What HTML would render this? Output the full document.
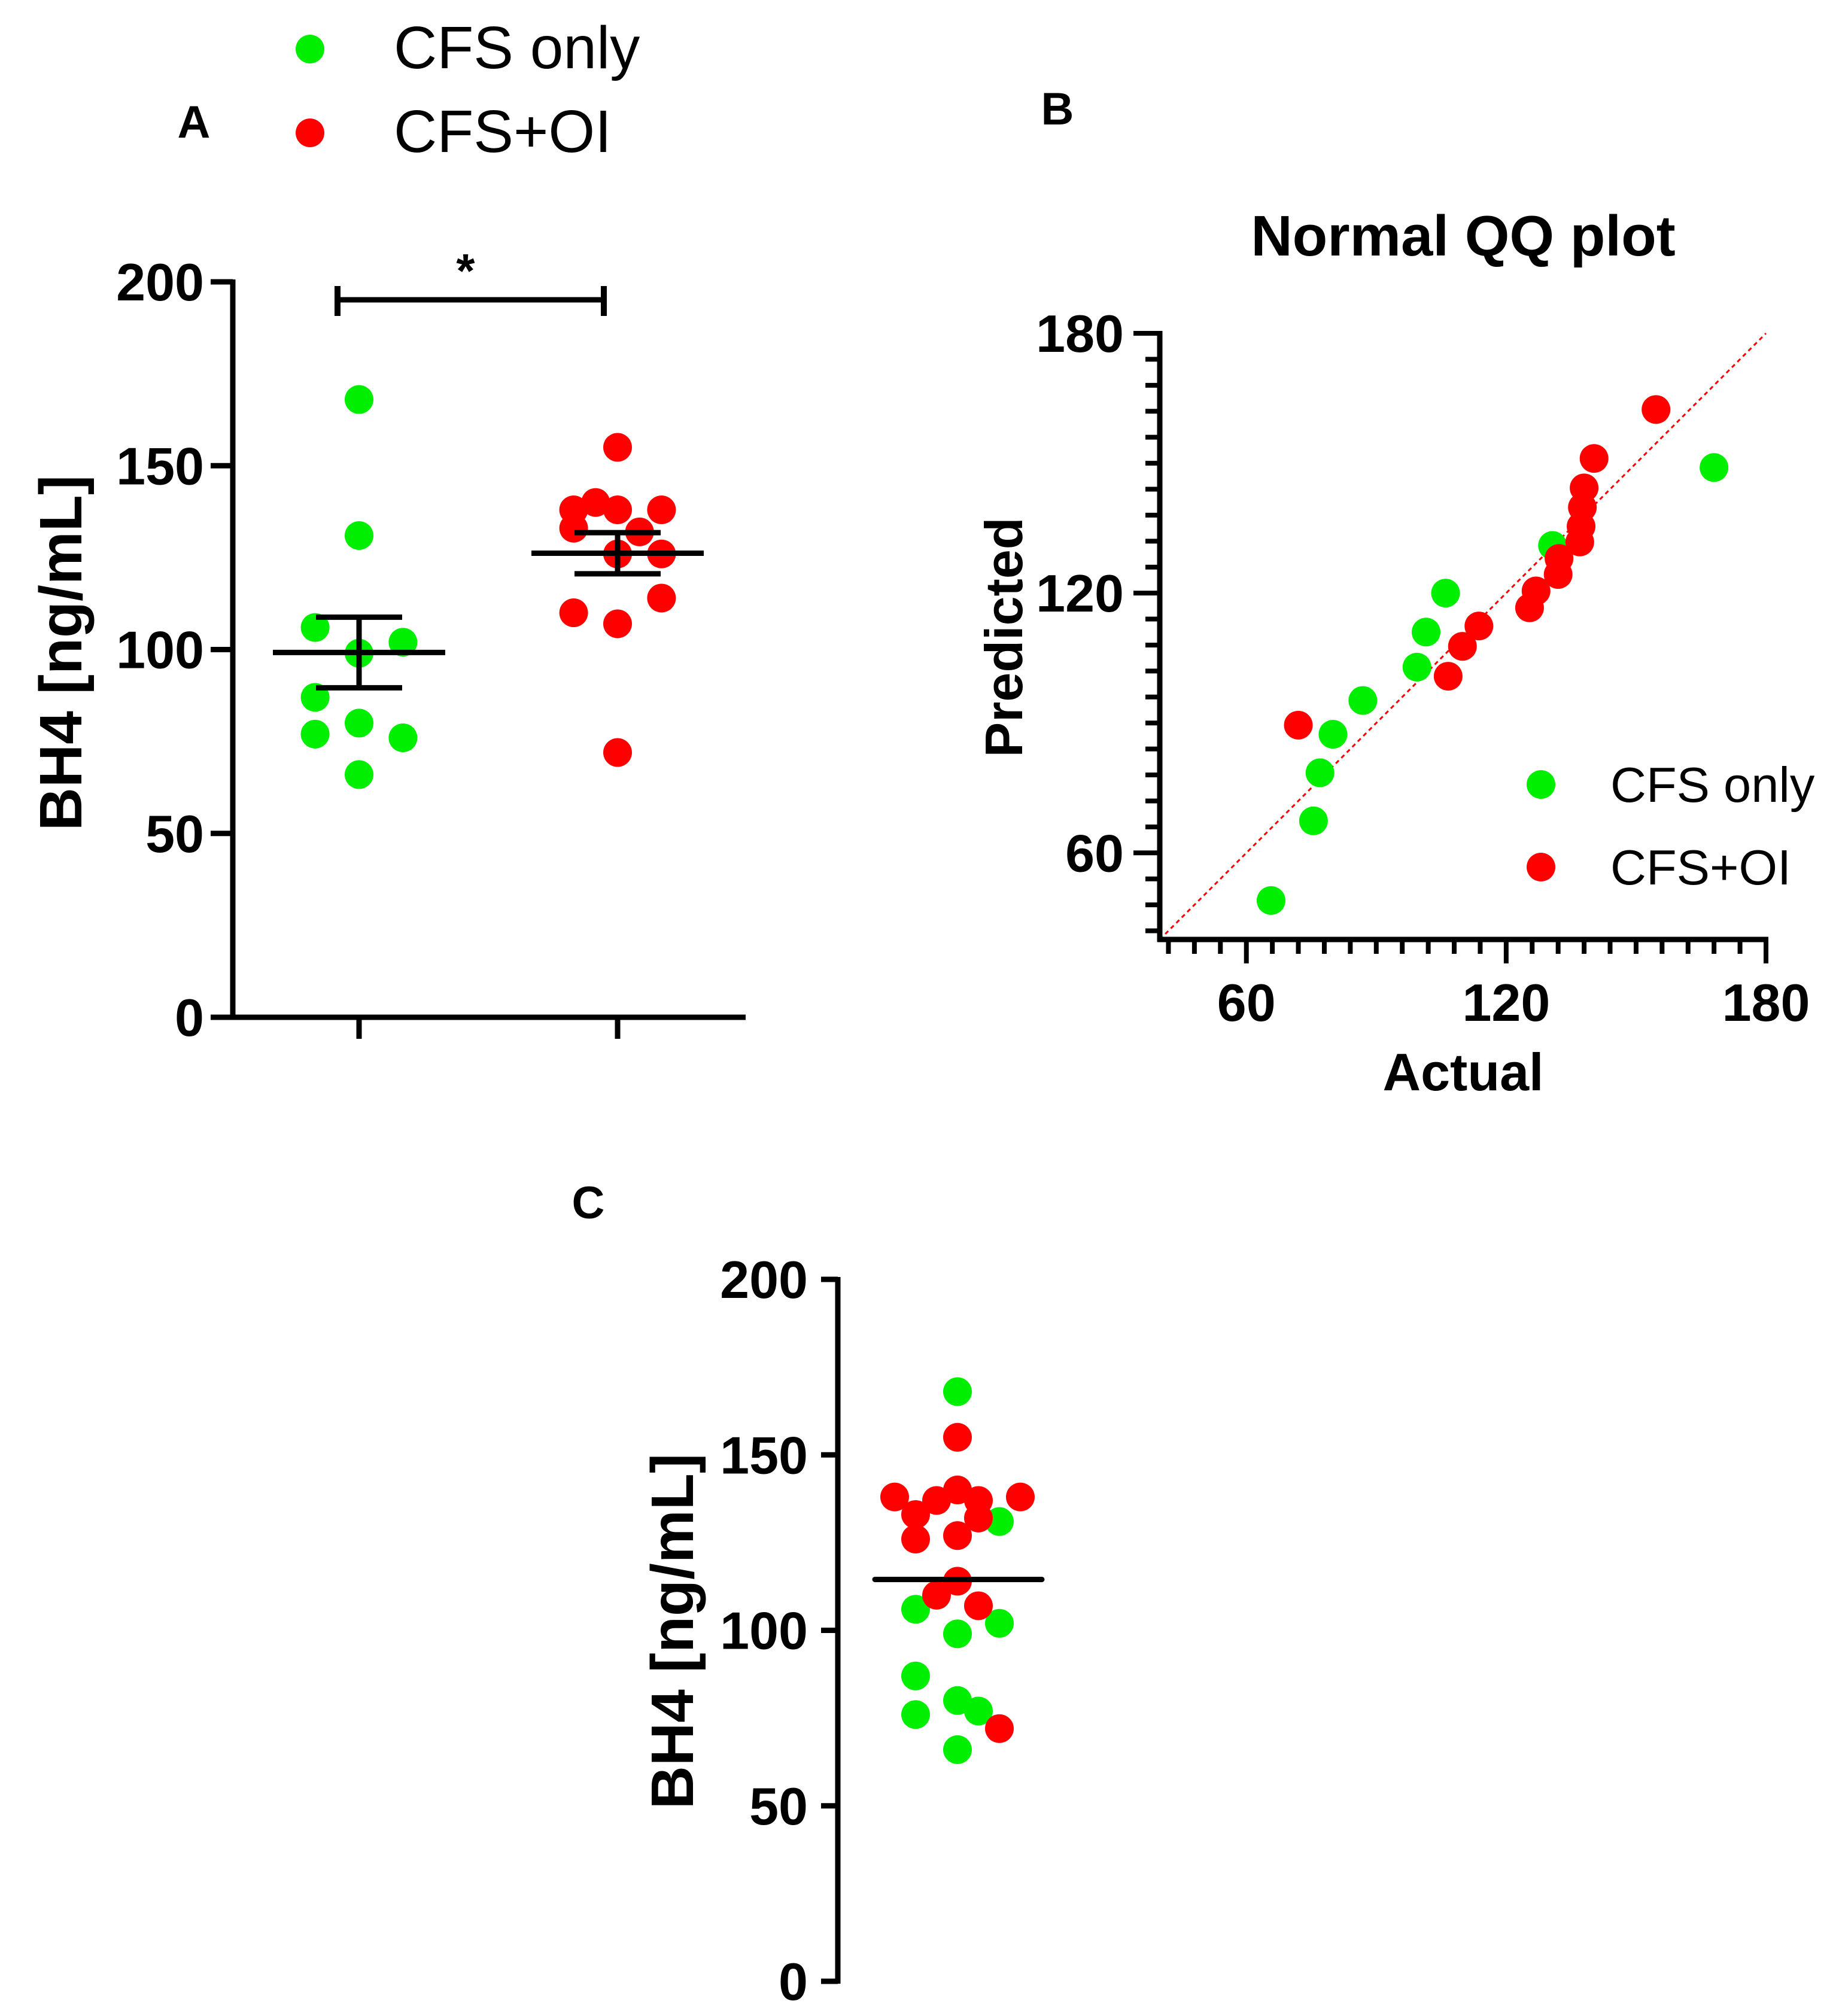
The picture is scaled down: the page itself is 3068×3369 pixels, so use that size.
<!DOCTYPE html>
<html><head><meta charset="utf-8">
<style>
html,body{margin:0;padding:0;background:#fff;}
svg{display:block;font-family:"Liberation Sans",Arial,sans-serif;}
</style></head>
<body>
<svg id="fig" width="3068" height="3369" viewBox="0 0 3068 3369" xmlns="http://www.w3.org/2000/svg">
<g id="pa"></g>
<g id="pb"></g>
<g id="pc"></g>
</svg>
<script>
// ---------- Data ----------
// Panel A
const groupsA = ["CFS only", "CFS+OI"];
const greenA = [168, 131, 106, 99, 102, 87, 80, 77, 76, 66];
const greenSlotA = [0, 0, -2, 0, 2, -2, 0, -2, 2, 0];
const redA = [155, 138, 140, 138, 138, 133, 132, 126, 126, 110, 107, 114, 72];
const redSlotA = [0, -2, -1, 0, 2, -2, 1, 0, 2, -2, 0, 2, 0];
const meansA = [99.2, 126.2];
const semA = [9.6, 5.6];
const ticksA = [0, 50, 100, 150, 200];
// Panel B (QQ)
const greenQQx = [65.7, 75.5, 77, 80, 86.9, 99.4, 101.5, 106, 130.7, 168];
const greenQQy = [49, 67.4, 78.5, 87.4, 95.2, 102.9, 111, 120, 131, 149];
const redQQx = [72, 106.6, 109.9, 113.7, 125.4, 126.9, 132, 132.2, 137, 137.3, 137.6, 138, 140.3, 154.6];
const redQQy = [89.5, 100.8, 107.7, 112.4, 116.6, 120.5, 124.3, 128, 131.8, 135.4, 139.8, 144.3, 151.1, 162.4];
const ticksB = [60, 120, 180];
// Panel C
const greenC = [168, 131, 106, 99, 102, 87, 80, 77, 76, 66];
const greenSlotC = [0, 2, -2, 0, 2, -2, 0, 1, -2, 0];
const redC = [155, 138, 137, 140, 137, 138, 133, 132, 126, 127, 114, 110, 107, 72];
const redSlotC = [0, -3, -1, 0, 1, 3, -2, 1, -2, 0, 0, -1, 1, 2];
const meanC = [114.5];
const ticksC = [0, 50, 100, 150, 200];

const NS = "http://www.w3.org/2000/svg";
const GREEN = "#00ee00", RED = "#ff0000";
function mk(parent, tag, attrs, text) {
  const e = document.createElementNS(NS, tag);
  for (const k in attrs) e.setAttribute(k, attrs[k]);
  if (text !== undefined) e.textContent = text;
  parent.appendChild(e);
  return e;
}
function line(p, x1, y1, x2, y2, w, name, extra) {
  const e = mk(p, "line", Object.assign({x1, y1, x2, y2, stroke: "#000", "stroke-width": w}, extra || {}));
  
  
  return e;
}
function txt(p, x, y, s, size, anchor, name, bold, extra) {
  const e = mk(p, "text", Object.assign({x, y, "font-size": size, "text-anchor": anchor, "font-weight": bold ? "bold" : "normal"}, extra || {}), s);
  
  
  return e;
}
function dot(p, cx, cy, r, fill, name) {
  const e = mk(p, "circle", {cx, cy, r, fill});
  
  
  return e;
}

// ---------- Panel A ----------
(function () {
  const g = document.getElementById("pa");
  const y0 = 1700, y200 = 471;
  const yA = v => y0 - v * (y0 - y200) / 200;
  const xc = [600, 1032], slot = 36.7, R = 24;
  dot(g, 518, 82, R, GREEN, "legend-marker-cfs-only");
  txt(g, 658, 114, "CFS only", 100, "start", "legend-label-cfs-only", false);
  dot(g, 518, 222, R, RED, "legend-marker-cfs-oi");
  txt(g, 658, 254, "CFS+OI", 100, "start", "legend-label-cfs-oi", false);
  txt(g, 324, 230, "A", 76, "middle", "panel-label-a", true);
  line(g, 389, y200 - 4, 389, y0 + 4, 9, "y-axis-line");
  line(g, 385, y0, 1246, y0, 9, "x-axis-line");
  ticksA.forEach(t => {
    line(g, 352, yA(t), 389, yA(t), 9, "y-tick-" + t);
    txt(g, 341, yA(t) + 31, String(t), 88, "end", "y-tick-label-" + t, true);
  });
  xc.forEach((x, i) => line(g, x, y0, x, y0 + 36, 9, "x-tick-" + i));
  txt(g, 0, 0, "BH4 [ng/mL]", 100, "middle", "y-axis-title", true, {transform: "translate(136,1091) rotate(-90)"});
  greenA.forEach((v, i) => dot(g, xc[0] + greenSlotA[i] * slot, yA(v), R, GREEN, "dot-cfs-only"));
  redA.forEach((v, i) => dot(g, xc[1] + redSlotA[i] * slot, yA(v), R, RED, "dot-cfs-oi"));
  meansA.forEach((m, i) => {
    const x = xc[i];
    line(g, x - 144, yA(m), x + 144, yA(m), 9, "mean-line-" + i);
    line(g, x, yA(m + semA[i]), x, yA(m - semA[i]), 9, "sem-bar-" + i);
    line(g, x - 72, yA(m + semA[i]), x + 72, yA(m + semA[i]), 9, "sem-cap-top-" + i);
    line(g, x - 72, yA(m - semA[i]), x + 72, yA(m - semA[i]), 9, "sem-cap-bottom-" + i);
  });
  line(g, 564, 501, 1009, 501, 9, "significance-bar");
  line(g, 564, 478, 564, 528, 10, "significance-end-left");
  line(g, 1009, 478, 1009, 528, 10, "significance-end-right");
  txt(g, 778, 480, "*", 80, "middle", "significance-star", true);
})();

// ---------- Panel B ----------
(function () {
  const g = document.getElementById("pb");
  const X0 = 1938, X1 = 2951, Y0 = 1570, Y1 = 557, vmin = 40, vmax = 180;
  const xB = v => X0 + (v - vmin) * (X1 - X0) / (vmax - vmin);
  const yB = v => Y0 - (v - vmin) * (Y0 - Y1) / (vmax - vmin);
  txt(g, 1767, 208, "B", 76, "middle", "panel-label-b", true);
  txt(g, 2445, 427, "Normal QQ plot", 96, "middle", "chart-title", true);
  line(g, xB(40), yB(40), xB(180), yB(180), 3, "reference-line", {stroke: "#ff0000", "stroke-dasharray": "7 6"});
  line(g, X0, Y1 - 4, X0, Y0 + 4, 9, "y-axis-line");
  line(g, X0 - 4, Y0, X1 + 4, Y0, 9, "x-axis-line");
  for (let v = 42; v <= 180; v += 6) {
    const major = ticksB.indexOf(v) >= 0;
    line(g, major ? 1894 : 1914, yB(v), X0, yB(v), 8, major ? "y-major-tick" : "y-minor-tick");
    line(g, xB(v), Y0, xB(v), Y0 + (major ? 40 : 24), 8, major ? "x-major-tick" : "x-minor-tick");
  }
  ticksB.forEach(t => {
    txt(g, 1878, yB(t) + 31, String(t), 88, "end", "y-tick-label-" + t, true);
    txt(g, xB(t), 1706, String(t), 88, "middle", "x-tick-label-" + t, true);
  });
  txt(g, 2445, 1822, "Actual", 88, "middle", "x-axis-title", true);
  txt(g, 0, 0, "Predicted", 88, "middle", "y-axis-title", true, {transform: "translate(1708,1065) rotate(-90)"});
  const R = 24;
  greenQQx.forEach((v, i) => dot(g, xB(v), yB(greenQQy[i]), R, GREEN, "qq-point-cfs-only"));
  redQQx.forEach((v, i) => dot(g, xB(v), yB(redQQy[i]), R, RED, "qq-point-cfs-oi"));
  dot(g, 2575, 1311, R, GREEN, "legend-marker-cfs-only");
  txt(g, 2691, 1340, "CFS only", 83, "start", "legend-label-cfs-only", false);
  dot(g, 2575, 1449, R, RED, "legend-marker-cfs-oi");
  txt(g, 2691, 1478, "CFS+OI", 83, "start", "legend-label-cfs-oi", false);
})();

// ---------- Panel C ----------
(function () {
  const g = document.getElementById("pc");
  const y0 = 3311, y200 = 2138;
  const yC = v => y0 - v * (y0 - y200) / 200;
  const xc = 1600, slot = 35, R = 24;
  txt(g, 983, 2036, "C", 76, "middle", "panel-label-c", true);
  line(g, 1400, y200 - 4, 1400, y0 + 4, 9, "y-axis-line");
  ticksC.forEach(t => {
    line(g, 1372, yC(t), 1400, yC(t), 9, "y-tick-" + t);
    txt(g, 1350, yC(t) + 31, String(t), 88, "end", "y-tick-label-" + t, true);
  });
  txt(g, 0, 0, "BH4 [ng/mL]", 100, "middle", "y-axis-title", true, {transform: "translate(1158,2726) rotate(-90)"});
  greenC.forEach((v, i) => dot(g, xc + greenSlotC[i] * slot, yC(v), R, GREEN, "dot-cfs-only"));
  redC.forEach((v, i) => dot(g, xc + redSlotC[i] * slot, yC(v), R, RED, "dot-cfs-oi"));
  line(g, 1462, yC(meanC[0]), 1741, yC(meanC[0]), 9, "mean-line", {"stroke-linecap": "round"});
})();
</script>
</body></html>
